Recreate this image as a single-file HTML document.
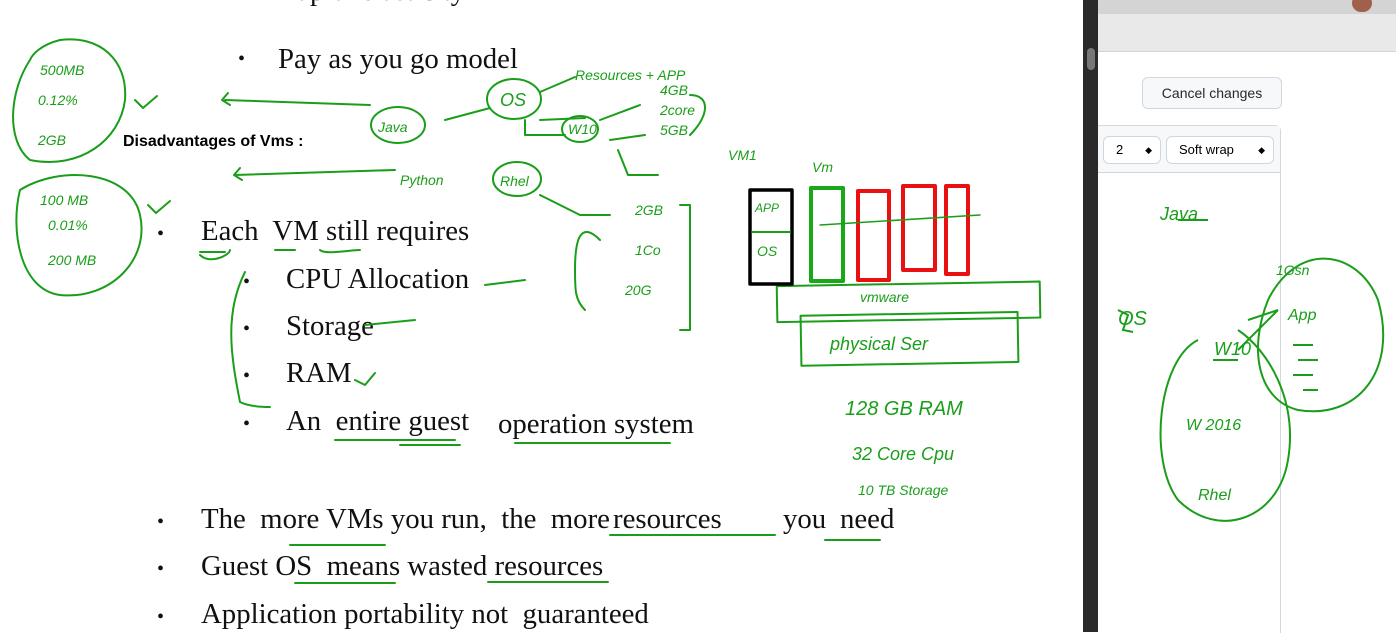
<!DOCTYPE html>
<html><head><meta charset="utf-8"><style>
body{margin:0;width:1396px;height:632px;overflow:hidden;background:#fff;position:relative;font-family:"Liberation Serif",serif}
.t{position:absolute;font-size:28.8px;color:#111;white-space:pre}
.b{position:absolute;font-size:20px;color:#111}
</style></head><body>
<div class="t" style="left:278px;top:-25px">Rapid  elasticity</div>
<div class="b" style="left:238px;top:48px">•</div><div class="t" style="left:278px;top:43px">Pay as you go model</div>
<div style="position:absolute;left:123px;top:133px;font:bold 16px 'Liberation Sans',sans-serif">Disadvantages of Vms :</div>
<div class="b" style="left:157px;top:223px">•</div><div class="t" style="left:201px;top:215px">Each  VM still requires</div>
<div class="b" style="left:243px;top:271px">•</div><div class="t" style="left:286px;top:263px">CPU Allocation</div>
<div class="b" style="left:243px;top:318px">•</div><div class="t" style="left:286px;top:310px">Storage</div>
<div class="b" style="left:243px;top:365px">•</div><div class="t" style="left:286px;top:357px">RAM</div>
<div class="b" style="left:243px;top:413px">•</div><div class="t" style="left:286px;top:405px">An  entire guest</div><div class="t" style="left:498px;top:408px">operation system</div>
<div class="b" style="left:157px;top:511px">•</div><div class="t" style="left:201px;top:503px">The  more VMs you run,  the  more</div><div class="t" style="left:613px;top:503px">resources</div><div class="t" style="left:783px;top:503px">you</div><div class="t" style="left:840px;top:503px">need</div>
<div class="b" style="left:157px;top:558px">•</div><div class="t" style="left:201px;top:550px">Guest OS  means wasted resources</div>
<div class="b" style="left:157px;top:606px">•</div><div class="t" style="left:201px;top:598px">Application portability not  guaranteed</div>

<svg style="position:absolute;left:0;top:0" width="1083" height="632" fill="none" stroke-linecap="round" stroke-linejoin="round">
<g stroke="#1a9e1a" stroke-width="2">
<path d="M30,60 C10,90 5,140 30,160 C80,170 120,140 125,100 C128,60 100,35 60,40 C40,45 32,55 30,60"/>
<path d="M20,190 C10,230 20,290 60,295 C110,300 150,260 140,215 C130,170 60,165 20,190"/>
<path d="M135,100 l8,8 l14,-12 M148,205 l8,8 l14,-12"/>
<path d="M370,105 l-145,-5 M228,93 l-6,7 l8,5 M395,170 l-160,5 M240,168 l-6,7 l8,5"/>
<ellipse cx="398" cy="125" rx="27" ry="18"/><ellipse cx="514" cy="99" rx="27" ry="20"/><ellipse cx="517" cy="179" rx="24" ry="17"/>
<ellipse cx="580" cy="129" rx="18" ry="13"/>
<path d="M445,120 l45,-12 M540,92 l35,-15 M540,120 l45,-2 M525,120 l0,15 l40,0 M600,120 l40,-15 M610,140 l35,-5 M618,150 l10,25 l30,0"/>
<path d="M690,95 c20,0 20,20 0,40 M540,195 l40,20 l30,0 M680,205 l10,0 l0,125 l-10,0 M600,240 c-20,-20 -25,0 -25,30 c0,20 0,30 10,40"/>
<path d="M200,255 c10,10 30,0 30,-5 M320,250 c5,5 30,0 40,0 M245,272 c-20,40 -15,80 -5,130 c10,5 25,5 30,5 M485,285 l40,-5 M365,325 l50,-5 M355,380 l10,5 l10,-12"/>
<path d="M200,252 l25,0 M275,250 l20,0 M335,440 l120,0 M400,445 l60,0 M515,443 l155,0 M290,545 l95,0 M610,535 l165,0 M825,540 l55,0 M295,583 l100,0 M488,582 l120,0"/>
<rect x="777" y="284" width="263" height="36" transform="rotate(-1 900 300)"/>
<rect x="801" y="314" width="217" height="50" transform="rotate(-1 900 340)"/>
</g>
<g fill="#1a9e1a" font-family="Liberation Sans,sans-serif" font-style="italic" font-size="14">
<text x="40" y="75">500MB</text><text x="38" y="105">0.12%</text><text x="38" y="145">2GB</text>
<text x="40" y="205">100 MB</text><text x="48" y="230">0.01%</text><text x="48" y="265">200 MB</text>
<text x="378" y="132">Java</text><text x="500" y="106" font-size="18">OS</text><text x="568" y="134">W10</text>
<text x="400" y="185">Python</text><text x="500" y="186">Rhel</text>
<text x="575" y="80">Resources + APP</text><text x="660" y="95">4GB</text><text x="660" y="115">2core</text><text x="660" y="135">5GB</text>
<text x="635" y="215">2GB</text><text x="635" y="255">1Co</text><text x="625" y="295">20G</text>
<text x="728" y="160">VM1</text><text x="812" y="172">Vm</text>
<text x="755" y="212" font-size="12">APP</text><text x="757" y="256">OS</text>
<text x="860" y="302">vmware</text><text x="830" y="350" font-size="18">physical Ser</text>
<text x="845" y="415" font-size="20">128 GB   RAM</text><text x="852" y="460" font-size="18">32 Core  Cpu</text><text x="858" y="495">10 TB  Storage</text>
</g>
<rect x="750" y="190" width="42" height="94" stroke="#000" stroke-width="3.5"/>
<path d="M752,232 l38,0" stroke="#1a9e1a" stroke-width="2"/>
<rect x="811" y="188" width="32" height="93" stroke="#18a818" stroke-width="4"/>
<g stroke="#e81010" stroke-width="4"><rect x="858" y="191" width="31" height="89"/><rect x="903" y="186" width="32" height="84"/><rect x="946" y="186" width="22" height="88"/></g>
<path d="M820,225 l160,-10" stroke="#1a9e1a" stroke-width="1.5"/>
</svg>

<div style="position:absolute;left:1083px;top:0;width:15px;height:632px;background:#2a2a2a"></div>
<div style="position:absolute;left:1087px;top:48px;width:8px;height:22px;background:#777;border-radius:4px"></div>
<div style="position:absolute;left:1098px;top:0;width:298px;height:14px;background:#d4d4d4"></div>
<div style="position:absolute;left:1098px;top:14px;width:298px;height:37px;background:#e9e9e9;border-bottom:1px solid #cfd3da"></div>
<div style="position:absolute;left:1352px;top:-6px;width:20px;height:18px;border-radius:10px;background:#a0604c"></div>
<div style="position:absolute;left:1142px;top:77px;width:138px;height:30px;border:1px solid #d0d7de;border-radius:6px;background:#f6f8fa;font:14px 'Liberation Sans',sans-serif;color:#24292f;text-align:center;line-height:30px">Cancel changes</div>
<div style="position:absolute;left:1098px;top:125px;width:182px;height:507px;border-right:1px solid #d0d7de;border-top:1px solid #d0d7de;border-radius:0 6px 0 0"></div>
<div style="position:absolute;left:1098px;top:126px;width:182px;height:46px;background:#f6f8fa;border-bottom:1px solid #d0d7de"></div>
<div style="position:absolute;left:1103px;top:136px;width:56px;height:26px;border:1px solid #d0d7de;border-radius:6px;background:#fff;font:13px 'Liberation Sans',sans-serif;line-height:26px;text-indent:12px">2<span style="position:absolute;right:8px;font-size:9px">◆</span></div>
<div style="position:absolute;left:1166px;top:136px;width:106px;height:26px;border:1px solid #d0d7de;border-radius:6px;background:#fff;font:13px 'Liberation Sans',sans-serif;line-height:26px;text-indent:12px">Soft wrap<span style="position:absolute;right:8px;font-size:9px">◆</span></div>
<svg style="position:absolute;left:1098px;top:180px" width="298" height="452" fill="none" stroke="#1a9e1a" stroke-width="2">
<path d="M80,40 l30,0 M20,130 l10,5 l-5,15 l10,2 M115,180 l25,0 M100,160 c-40,20 -50,120 -20,160 c40,40 100,20 110,-40 c10,-60 -20,-110 -50,-130 M170,120 c-20,50 -10,100 30,110 c60,10 100,-40 80,-110 c-20,-50 -80,-60 -110,0 M150,140 l30,-10 M140,170 l40,-40 M195,165 l20,0 M200,180 l20,0 M195,195 l20,0 M205,210 l15,0"/>
<g fill="#1a9e1a" stroke="none" font-family="Liberation Sans,sans-serif" font-style="italic"><text x="62" y="40" font-size="18">Java</text><text x="20" y="145" font-size="20">OS</text><text x="116" y="175" font-size="18">W10</text><text x="88" y="250" font-size="16">W 2016</text><text x="100" y="320" font-size="16">Rhel</text><text x="178" y="95" font-size="14">1Gsn</text><text x="190" y="140" font-size="16">App</text></g>
</svg>
</body></html>
